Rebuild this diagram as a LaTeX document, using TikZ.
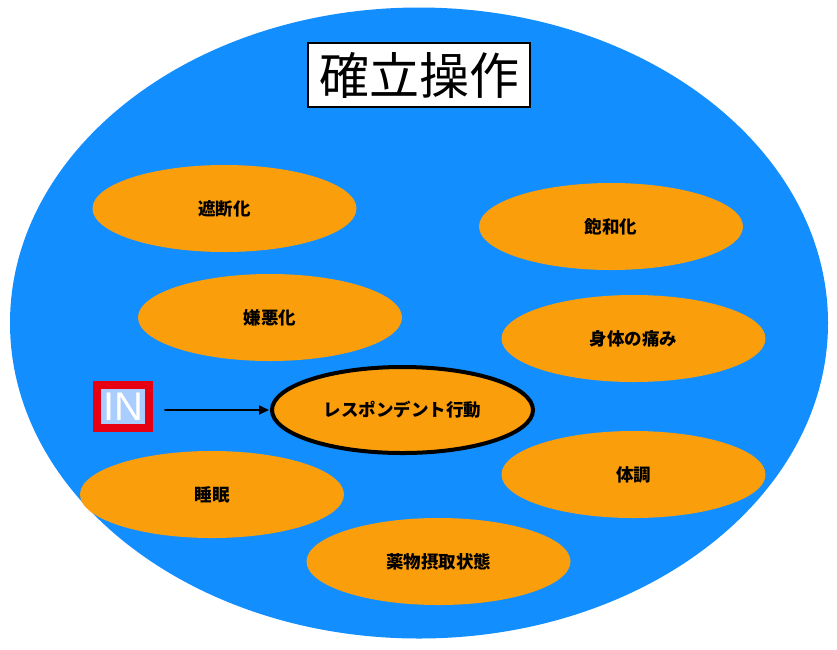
\documentclass[tikz,border=0pt]{standalone}
\usepackage{fontspec}
\newfontfamily\jafont{Noto Sans CJK JP}
\newfontfamily\infont{Liberation Sans}
\usepackage{tikz}
\usetikzlibrary{positioning,shapes.geometric,arrows.meta}
\definecolor{fieldblue}{RGB}{18,142,255}
\definecolor{condorange}{RGB}{250,158,11}
\definecolor{inred}{RGB}{230,0,18}
\definecolor{inblue}{RGB}{170,205,255}
\tikzset{
  >={Triangle[length=10pt,width=9pt]},
  cond/.style ={ellipse, fill=condorange, minimum width=264pt, minimum height=87pt,
                inner sep=0pt, font=\jafont\bfseries\fontsize{17.5}{20}\selectfont},
}

\begin{document}
\begin{tikzpicture}[x=1pt, y=-1pt, line cap=round,
  resp/.style={cond, draw=black, line width=4pt, minimum width=261pt, minimum height=86pt},
  titlebox/.style={draw=black, fill=white, line width=2.5pt, minimum width=222pt,
                   minimum height=64pt, inner sep=0pt, font=\jafont\fontsize{50}{56}\selectfont},
  inbox/.style={fill=inblue, draw=inred, line width=8pt, minimum width=52pt, minimum height=43pt,
                inner sep=0pt, text=white, font=\infont\fontsize{40}{44}\selectfont}
]
\useasboundingbox (0,0) rectangle (837,649);

%--- Field of establishing operations ---
\node[ellipse, fill=fieldblue, minimum width=818pt, minimum height=631pt, inner sep=0pt]
  (field) at (419,323) {};
\node[titlebox] (title) at (419,75) {確立操作};

%--- Conditions ---
\node[cond] (block)  at (224.5,208.5) {遮断化};
\node[cond] (satur)  at (611,226.5)   {飽和化};
\node[cond] (avers)  at (270,317.5)   {嫌悪化};
\node[cond] (pain)   at (633.5,338.5) {身体の痛み};
\node[cond] (sleep)  at (212,494.5)   {睡眠};
\node[cond] (health) at (633.5,474.5) {体調};
\node[cond] (drug)   at (438.5,561.5) {薬物摂取状態};

%--- Respondent behaviour and input ---
\node[resp] (resp) at (402.5,410) {レスポンデント行動};
\node[inbox] (in) at (123,406.5) {IN};
\draw[->, line width=2pt, shorten <=12pt, shorten >=1pt] (in.east |- resp.west) -- (resp.west);

\end{tikzpicture}
\end{document}
